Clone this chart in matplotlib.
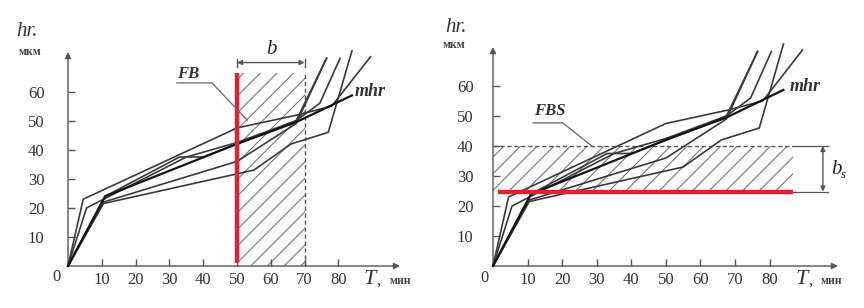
import matplotlib.pyplot as plt

plt.rcParams['hatch.linewidth'] = 0.8
plt.rcParams['hatch.color'] = '#777777'

# wear curves hr(T) (same curves in both panels)
t1 = [0, 4.5, 50, 68, 78, 89.5]
h1 = [0, 23, 47.5, 52, 55, 72]
t2 = [0, 5.5, 35, 50, 67.5, 76.5]
h2 = [0, 20, 37.5, 42.5, 50, 71.5]
t3 = [0, 10.5, 55, 66, 77, 84]
h3 = [0, 21.5, 33, 42, 46, 74]
t4 = [0, 11, 33, 40, 67.5, 74.5, 80.5]
h4 = [0, 24, 37.5, 37.5, 50, 56, 71.5]
t5 = [0, 10.5, 50, 67.5, 76.5]
h5 = [0, 22, 36, 49, 71.5]
mhr_t = [0, 11, 50, 67.5, 84]
mhr_h = [0, 24, 42, 49.5, 58.7]

x_ticks = [10, 20, 30, 40, 50, 60, 70, 80]
y_ticks = [10, 20, 30, 40, 50, 60]

# left panel: failure band in time
fb_t0, fb_t1, fb_top = 50, 70, 66.3
# right panel: failure band in wear
fbs_h0, fbs_h1, fbs_end = 24.8, 40, 86.7

W, H = 864, 308
serif = 'Liberation Serif'
grey = '#555555'
red = '#e3202b'
curve_col = '#3a3a3a'


def fx(px):
    return px / W


def fy(py):
    return 1 - py / H


fig = plt.figure(figsize=(8.64, 3.08), dpi=100)
axL = fig.add_axes([fx(68), fy(266), 332 / W, 214 / H])
axR = fig.add_axes([fx(493), fy(266), 345 / W, 219 / H])
axL.set_xlim(0, 332 / 3.38)
axL.set_ylim(0, 214 / 2.906)
axR.set_xlim(0, 345 / 3.458)
axR.set_ylim(0, 219 / 3.0)


def base(ax, ypad):
    for s in ax.spines.values():
        s.set_visible(False)
    ax.patch.set_alpha(0)
    x0, x1 = ax.get_xlim()
    y0, y1 = ax.get_ylim()
    arr = dict(arrowstyle='-|>', color=grey, lw=1.0, mutation_scale=9,
               shrinkA=0, shrinkB=0)
    ax.annotate('', xy=(x1, 0), xytext=(0, 0), arrowprops=arr, annotation_clip=False)
    ax.annotate('', xy=(0, y1), xytext=(0, 0), arrowprops=arr, annotation_clip=False)
    ax.set_xticks(x_ticks)
    ax.set_yticks(y_ticks)
    ax.tick_params(direction='in', length=5, width=1, color=grey,
                   labelsize=12, labelcolor='#333333')
    ax.tick_params(axis='x', pad=4)
    ax.tick_params(axis='y', pad=ypad)
    for lab in ax.get_xticklabels() + ax.get_yticklabels():
        lab.set_family(serif)
    for t, h in [(t1, h1), (t2, h2), (t3, h3), (t4, h4), (t5, h5)]:
        ax.plot(t, h, color=curve_col, lw=1.2, zorder=3, clip_on=False)
    ax.plot(mhr_t, mhr_h, color='#151515', lw=1.6, zorder=4, clip_on=False)


base(axL, 17)
base(axR, 14)

# ---- left panel
axL.fill_between([fb_t0, fb_t1], 0, fb_top, facecolor='none', edgecolor='#777777',
                 hatch='//', lw=0, zorder=1)
axL.plot([fb_t1, fb_t1], [0, fb_top], color=grey, lw=1, ls=(0, (3, 2)), zorder=2)
axL.plot([fb_t0, fb_t0], [1, fb_top], color=red, lw=3.2, zorder=5, solid_capstyle='butt')
for xv in (fb_t0, fb_t1):
    axL.plot([xv, xv], [68.5, 71.3], color=grey, lw=1, clip_on=False)
axL.annotate('', xy=(fb_t1, 70), xytext=(fb_t0, 70), annotation_clip=False,
             arrowprops=dict(arrowstyle='<|-|>', color=grey, lw=1, mutation_scale=7,
                             shrinkA=0, shrinkB=0))
axL.text(60.3, 74.5, 'b', family=serif, style='italic', fontsize=15, ha='center',
         va='center', color='#222222')
axL.plot([32.2, 42.6, 53], [63, 63, 50.2], color='#666666', lw=0.9, zorder=6)
axL.text(35.5, 66, 'FB', family=serif, style='italic', weight='bold', fontsize=12,
         ha='center', va='center', color='#333333')
axL.text(89.3, 60.2, 'mhr', family=serif, style='italic', weight='bold', fontsize=13,
         ha='center', va='center', color='#333333')
axL.text(-3.3, -3.9, '0', family=serif, fontsize=12, ha='center', va='center',
         color='#333333')

# ---- right panel
axR.fill_between([0, fbs_end], fbs_h0, fbs_h1, facecolor='none', edgecolor='#777777',
                 hatch='//', lw=0, zorder=1)
axR.plot([0, fbs_end], [fbs_h1, fbs_h1], color=grey, lw=1, ls=(0, (3, 2)), zorder=2)
axR.plot([1.5, fbs_end], [fbs_h0, fbs_h0], color=red, lw=3.2, zorder=5,
         solid_capstyle='butt')
for yv in (fbs_h0, fbs_h1):
    axR.plot([fbs_end, 97], [yv, yv], color=grey, lw=0.9, clip_on=False)
axR.annotate('', xy=(95.4, fbs_h1), xytext=(95.4, fbs_h0), annotation_clip=False,
             arrowprops=dict(arrowstyle='<|-|>', color=grey, lw=1, mutation_scale=7,
                             shrinkA=0, shrinkB=0))
axR.text(99.2, 32.3, 'b', family=serif, style='italic', fontsize=15, ha='center',
         va='center', color='#222222', clip_on=False)
axR.text(101.2, 30.5, 's', family=serif, style='italic', fontsize=9, ha='center',
         va='center', color='#222222', clip_on=False)
axR.plot([11.6, 20.2, 28.9], [47.7, 47.7, 39.7], color='#666666', lw=0.9, zorder=6)
axR.text(16.5, 51.8, 'FBS', family=serif, style='italic', weight='bold', fontsize=12,
         ha='center', va='center', color='#333333')
axR.text(90.2, 59.7, 'mhr', family=serif, style='italic', weight='bold', fontsize=13,
         ha='center', va='center', color='#333333', clip_on=False)
axR.text(-2.4, -3.9, '0', family=serif, fontsize=12, ha='center', va='center',
         color='#333333')

# axis titles
for (hx, hy, mx, my, tx, ty, nx) in [(27, 32, 30, 52, 370, 279, 400),
                                     (456, 27, 454, 45, 802, 279, 831)]:
    fig.text(fx(hx), fy(hy), 'hr.', family=serif, style='italic', fontsize=15,
             ha='center', va='center', color='#333333')
    fig.text(fx(mx), fy(my), 'мкм', family=serif, fontsize=8.5, weight='bold',
             ha='center', va='center', color='#444444')
    fig.text(fx(tx), fy(ty), 'T', family=serif, style='italic', fontsize=16,
             ha='center', va='center', color='#333333')
    fig.text(fx(tx + 8), fy(ty + 2), ',', family=serif, fontsize=12,
             ha='center', va='center', color='#333333')
    fig.text(fx(nx), fy(ty + 2), 'мин', family=serif, fontsize=8.5, weight='bold',
             ha='center', va='center', color='#444444')

fig.savefig('out.png', dpi=100, facecolor='white')
